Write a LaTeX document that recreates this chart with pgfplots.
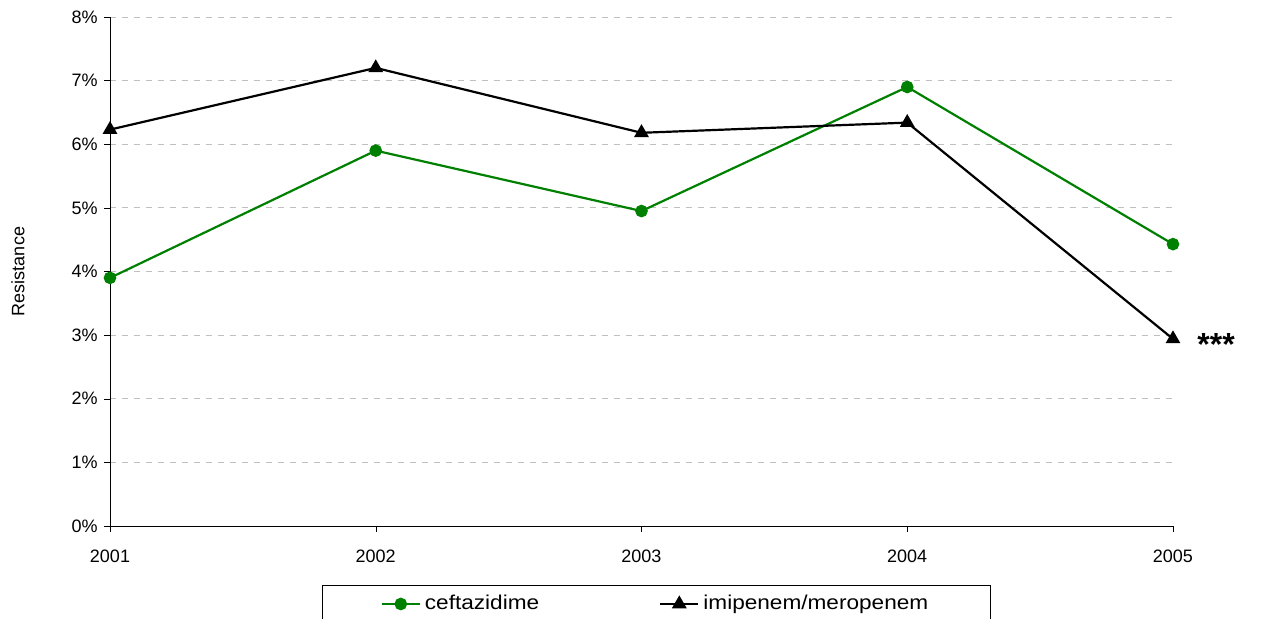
\documentclass[border=0pt]{standalone}
\usepackage{graphicx}
\usepackage{pgfplots}
\pgfplotsset{compat=1.18}
\usepackage{fontspec}
\setmainfont{Liberation Sans}
\definecolor{cg}{RGB}{0,128,0}
\begin{document}
\fontsize{9}{11}\selectfont
\begin{tikzpicture}
\path[use as bounding box] (-55pt,-46.5pt) rectangle (580.5pt,263pt);
\begin{axis}[at={(0,0)}, anchor=origin,
  width=531.5pt, height=254.5pt, scale only axis,
  xmin=0, xmax=4, ymin=0, ymax=8,
  axis x line*=bottom, axis y line*=left,
  x axis line style={-}, y axis line style={-},
  xtick={0,1,2,3,4}, xticklabels={2001,2002,2003,2004,2005},
  ytick={0,...,8}, yticklabel={\pgfmathprintnumber{\tick}\%},
  /pgf/number format/assume math mode=true,
  tick style={black}, tick align=outside, major tick length=3pt,
  ymajorgrids, grid style={dashed, gray!50},
  ylabel={Resistance}, ylabel style={at={(axis description cs:-0.0865,0.5)}, anchor=center},
  xticklabel style={yshift=-6pt},
  legend style={at={(0.513,0)}, anchor=north west, xshift=-166.5pt, yshift=-29.5pt, draw=black,
    legend columns=2, /tikz/every even column/.append style={column sep=58pt},
    inner xsep=29pt, inner ysep=3pt, font=\fontsize{10}{12}\selectfont},
  legend image code/.code={\draw[#1] (0pt,0pt) -- (19pt,0pt); \draw[#1, only marks] plot coordinates {(9.5pt,0pt)};},
  clip=false]
\addplot[cg, line width=1.1pt, mark=*, mark size=2.6pt] coordinates {(0,3.90)(1,5.90)(2,4.95)(3,6.90)(4,4.43)};
\addlegendentry{\scalebox{1.13}[1]{ceftazidime}}
\addplot[black, line width=1.1pt, mark=triangle*, mark size=3.2pt] coordinates {(0,6.23)(1,7.20)(2,6.18)(3,6.34)(4,2.94)};
\addlegendentry{\scalebox{1.13}[1]{imipenem/meropenem}}
\node[anchor=west, font=\fontsize{16}{16}\selectfont\bfseries, xshift=9pt, yshift=-3pt] at (axis cs:4,2.94) {***};
\end{axis}
\end{tikzpicture}
\end{document}
